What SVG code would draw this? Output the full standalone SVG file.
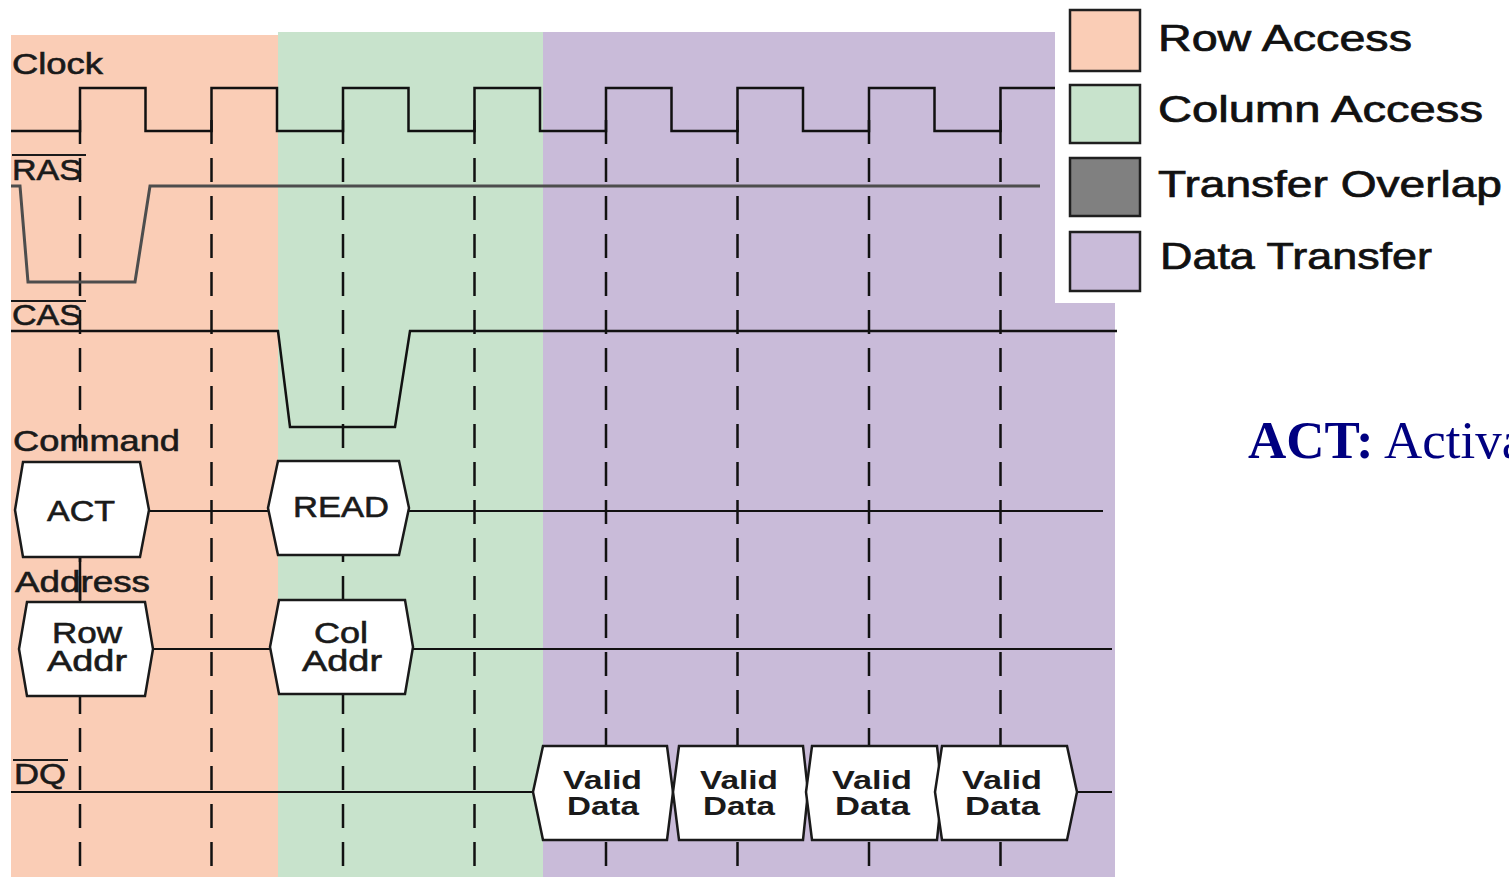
<svg xmlns="http://www.w3.org/2000/svg" width="1509" height="877" viewBox="0 0 1509 877">
  <style>
    .lbl { font-family: "Liberation Sans", Arial, sans-serif; font-size: 29px; fill: #1a1a1a; stroke: #1a1a1a; stroke-width: 0.6; }
    .box-t { font-family: "Liberation Sans", Arial, sans-serif; font-size: 29px; fill: #1a1a1a; stroke: #1a1a1a; stroke-width: 0.6; }
    .vd { font-family: "Liberation Sans", Arial, sans-serif; font-size: 26px; font-weight: bold; fill: #1a1a1a; }
    .leg { font-family: "Liberation Sans", Arial, sans-serif; font-size: 36px; fill: #111; stroke: #111; stroke-width: 0.7; }
    .sig { fill: none; stroke: #111; stroke-width: 2.5; }
    .ras { fill: none; stroke: #4d4d4d; stroke-width: 3; }
    .bus { fill: none; stroke: #111; stroke-width: 2; }
    .tick { fill: none; stroke: #111; stroke-width: 2.5; stroke-dasharray: 24 14; }
    .hex { fill: #ffffff; stroke: #1a1a1a; stroke-width: 2.5; stroke-linejoin: miter; }
    .sw { stroke: #1f1f1f; stroke-width: 2.5; }
    .ovl { stroke: #1a1a1a; stroke-width: 2; }
  </style>

  <rect width="1509" height="877" fill="#ffffff"/>

  <!-- phase bands -->
  <g id="phases">
    <rect x="11" y="35" width="267" height="842" fill="#FACDB6"/>
    <rect x="278" y="32" width="265" height="845" fill="#C8E3CC"/>
    <path d="M543,32 H1055 V303 H1115 V877 H543 Z" fill="#C9BBD9"/>
  </g>

  <!-- clock edge reference lines -->
  <g id="edges">
    <line class="tick" x1="80" y1="120" x2="80" y2="877"/>
    <line class="tick" x1="211.5" y1="120" x2="211.5" y2="877"/>
    <line class="tick" x1="343" y1="120" x2="343" y2="877"/>
    <line class="tick" x1="474.5" y1="120" x2="474.5" y2="877"/>
    <line class="tick" x1="606" y1="120" x2="606" y2="877"/>
    <line class="tick" x1="737.5" y1="120" x2="737.5" y2="877"/>
    <line class="tick" x1="869" y1="120" x2="869" y2="877"/>
    <line class="tick" x1="1000.5" y1="120" x2="1000.5" y2="877"/>
    <line x1="80" y1="556" x2="80" y2="603" stroke="#111" stroke-width="2.5"/>
  </g>

  <!-- signal traces -->
  <g id="connectors">
    <path id="clock-wave" class="sig" d="M11,131 H80 V88 H145.5 V131 H211.5 V88 H277 V131 H343 V88 H408.5 V131 H474.5 V88 H540 V131 H606 V88 H671.5 V131 H737.5 V88 H803 V131 H869 V88 H934.5 V131 H1000.5 V88 H1055"/>
    <path id="ras-wave" class="ras" d="M11,186 H20 L28,282 H135 L150,186 H1040"/>
    <path id="cas-wave" class="sig" d="M11,331 H278 L290,427 H395 L410,331 H1117"/>
    <path id="cmd-bus" class="bus" d="M149,511 H268 M409,511 H1103"/>
    <path id="addr-bus" class="bus" d="M153,649 H270 M413,649 H1112"/>
    <path id="dq-bus" class="bus" d="M11,792 H533 M1077,792 H1112"/>
  </g>

  <!-- signal names -->
  <g id="signal-labels">
    <text class="lbl" x="12" y="74" textLength="91" lengthAdjust="spacingAndGlyphs">Clock</text>
    <text class="lbl" x="12" y="180" textLength="70" lengthAdjust="spacingAndGlyphs">RAS</text>
    <line class="ovl" x1="12" y1="155" x2="86" y2="155"/>
    <text class="lbl" x="12" y="325" textLength="70" lengthAdjust="spacingAndGlyphs">CAS</text>
    <line class="ovl" x1="11" y1="301" x2="86" y2="301"/>
    <text class="lbl" x="13" y="451" textLength="167" lengthAdjust="spacingAndGlyphs">Command</text>
    <text class="lbl" x="15" y="592" textLength="135" lengthAdjust="spacingAndGlyphs">Address</text>
    <text class="lbl" x="14" y="784" textLength="52" lengthAdjust="spacingAndGlyphs">DQ</text>
    <line class="ovl" x1="13" y1="760" x2="68" y2="760"/>
  </g>

  <!-- command bus states -->
  <g id="cmd-act">
    <path class="hex" d="M23,462 H140 L149,510 L140,557 H23 L15,510 Z"/>
    <text class="box-t" x="47" y="521" textLength="68" lengthAdjust="spacingAndGlyphs">ACT</text>
  </g>
  <g id="cmd-read">
    <path class="hex" d="M278,461 H399 L409,508 L399,555 H278 L268,508 Z"/>
    <text class="box-t" x="293" y="517" textLength="96" lengthAdjust="spacingAndGlyphs">READ</text>
  </g>

  <!-- address bus states -->
  <g id="addr-row">
    <path class="hex" d="M27,602 H145 L153,649 L145,696 H27 L19,649 Z"/>
    <text class="box-t" x="52" y="643" textLength="70" lengthAdjust="spacingAndGlyphs">Row</text>
    <text class="box-t" x="47" y="671" textLength="80" lengthAdjust="spacingAndGlyphs">Addr</text>
  </g>
  <g id="addr-col">
    <path class="hex" d="M279,600 H405 L413,647 L405,694 H279 L270,647 Z"/>
    <text class="box-t" x="314" y="643" textLength="54" lengthAdjust="spacingAndGlyphs">Col</text>
    <text class="box-t" x="302" y="671" textLength="80" lengthAdjust="spacingAndGlyphs">Addr</text>
  </g>

  <!-- data bus bursts -->
  <g id="dq-1">
    <path class="hex" d="M543,746 H667 L673,792 L667,840 H543 L533,792 Z"/>
    <text class="vd" x="563" y="789" textLength="79" lengthAdjust="spacingAndGlyphs">Valid</text>
    <text class="vd" x="567" y="815" textLength="72" lengthAdjust="spacingAndGlyphs">Data</text>
  </g>
  <g id="dq-2">
    <path class="hex" d="M679,746 H803 L808,792 L803,840 H679 L673,792 Z"/>
    <text class="vd" x="700" y="789" textLength="78" lengthAdjust="spacingAndGlyphs">Valid</text>
    <text class="vd" x="703" y="815" textLength="72" lengthAdjust="spacingAndGlyphs">Data</text>
  </g>
  <g id="dq-3">
    <path class="hex" d="M812,746 H937 L942,792 L937,840 H812 L806,792 Z"/>
    <text class="vd" x="832" y="789" textLength="80" lengthAdjust="spacingAndGlyphs">Valid</text>
    <text class="vd" x="835" y="815" textLength="75" lengthAdjust="spacingAndGlyphs">Data</text>
  </g>
  <g id="dq-4">
    <path class="hex" d="M942,746 H1067 L1077,792 L1067,840 H942 L935,792 Z"/>
    <text class="vd" x="962" y="789" textLength="80" lengthAdjust="spacingAndGlyphs">Valid</text>
    <text class="vd" x="965" y="815" textLength="75" lengthAdjust="spacingAndGlyphs">Data</text>
  </g>

  <!-- legend -->
  <g id="legend">
    <rect class="sw" x="1070" y="10" width="70" height="61" fill="#FACDB6"/>
    <text class="leg" x="1158" y="51" textLength="254" lengthAdjust="spacingAndGlyphs">Row Access</text>
    <rect class="sw" x="1070" y="85" width="70" height="58" fill="#C8E3CC"/>
    <text class="leg" x="1158" y="122" textLength="325" lengthAdjust="spacingAndGlyphs">Column Access</text>
    <rect class="sw" x="1070" y="158" width="70" height="58" fill="#808080"/>
    <text class="leg" x="1158" y="197" textLength="344" lengthAdjust="spacingAndGlyphs">Transfer Overlap</text>
    <rect class="sw" x="1070" y="232" width="70" height="59" fill="#C9BBD9"/>
    <text class="leg" x="1160" y="269" textLength="272" lengthAdjust="spacingAndGlyphs">Data Transfer</text>
  </g>

  <!-- side note -->
  <g id="note">
    <text x="1248" y="458" font-family="'Liberation Serif', 'Times New Roman', serif" font-size="53" fill="#000080"><tspan font-weight="bold">ACT:</tspan> Activa</text>
  </g>
</svg>
